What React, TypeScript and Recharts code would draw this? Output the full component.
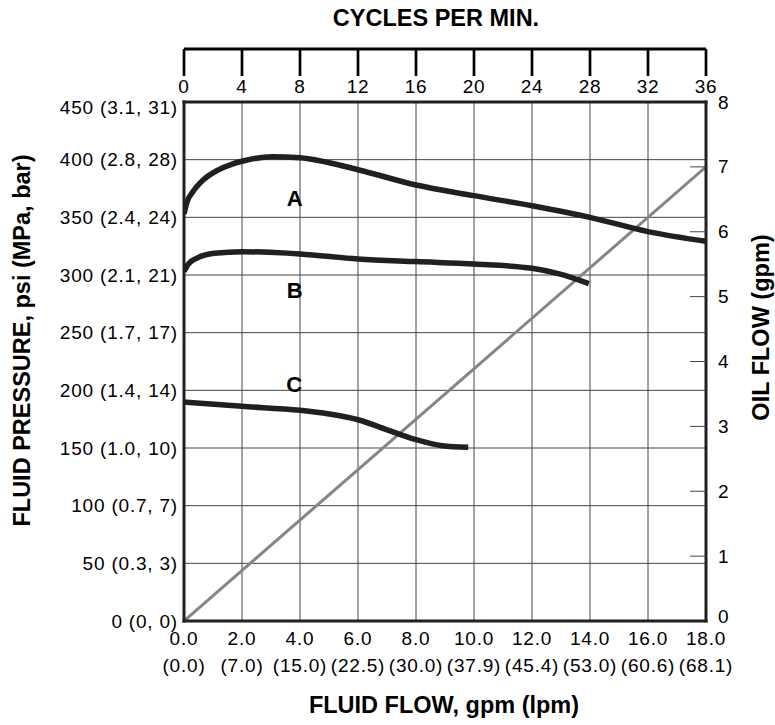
import React from "react";
import {
  CartesianGrid,
  Line,
  LineChart,
  ReferenceDot,
  ReferenceLine,
  XAxis,
  YAxis,
} from "recharts";

const FONT = '"Liberation Sans", Arial, Helvetica, sans-serif';
const INK = "#231f20";

// axis ticks
const GPM_TICKS = [0, 2, 4, 6, 8, 10, 12, 14, 16, 18];
const LPM_LABELS = ["0.0", "7.0", "15.0", "22.5", "30.0", "37.9", "45.4", "53.0", "60.6", "68.1"];
const CYCLE_TICKS = [0, 4, 8, 12, 16, 20, 24, 28, 32, 36];
const PSI_TICKS = [0, 50, 100, 150, 200, 250, 300, 350, 400, 450];
const MPA_LABELS = ["0", "0.3", "0.7", "1.0", "1.4", "1.7", "2.1", "2.4", "2.8", "3.1"];
const BAR_LABELS = ["0", "3", "7", "10", "14", "17", "21", "24", "28", "31"];
const OIL_TICKS = [0, 1, 2, 3, 4, 5, 6, 7, 8];

// curve A (gpm, psi)
const A_FLOW = [0, 0.1, 0.33, 0.69, 1.17, 1.64, 2, 3.05, 4, 6, 8, 10, 12, 14, 16, 18];
const A_PSI = [353, 363, 373, 383, 391, 396, 398.6, 402.6, 401.7, 391.3, 378, 368.8, 360, 350, 337.6, 329.2];

// curve B
const B_FLOW = [0, 0.15, 0.45, 1.05, 2, 4, 6, 8, 10, 12, 12.94, 13.96];
const B_PSI = [303.2, 309.5, 314.7, 318.8, 320.2, 318.2, 313.9, 311.6, 309.5, 305.8, 300.9, 292.5];

// curve C
const C_FLOW = [0, 2, 4, 5, 6, 7, 8, 8.9, 9.8];
const C_PSI = [189.9, 186.1, 182.7, 179.5, 174.5, 165.8, 157.2, 152, 150.6];

// oil flow vs pump cycles (cycles/min, gpm oil)
const OIL_CYCLES = [0, 36];
const OIL_GPM = [0, 7];

const TOP_AXIS_PSI = 496; // where the detached cycles axis line sits

const toRows = (xs: number[], ys: number[], key: string) =>
  xs.map((x, i) => ({ x, [key]: ys[i] }));

const curveA = toRows(A_FLOW, A_PSI, "psi");
const curveB = toRows(B_FLOW, B_PSI, "psi");
const curveC = toRows(C_FLOW, C_PSI, "psi");
const oilLine = toRows(OIL_CYCLES, OIL_GPM, "oil");

const tickText = {
  fontFamily: FONT,
  fontSize: 19,
  letterSpacing: 0.8,
  fill: "#000",
};

const titleText = {
  fontFamily: FONT,
  fontSize: 23.5,
  fontWeight: 700,
  fill: "#000",
};

const TopTick = (props: any) => {
  const { x, y, payload } = props;
  return (
    <g>
      <line x1={x} y1={y - 53} x2={x} y2={y - 26} stroke="#000" strokeWidth={2.7} />
      <text x={x} y={y - 16} textAnchor="middle" dominantBaseline="central" {...tickText}>
        {payload.value}
      </text>
    </g>
  );
};

const BottomTick = (props: any) => {
  const { x, y, payload, index } = props;
  return (
    <g>
      <text x={x} y={y + 17} textAnchor="middle" dominantBaseline="central" {...tickText}>
        {Number(payload.value).toFixed(1)}
      </text>
      <text x={x} y={y + 44} textAnchor="middle" dominantBaseline="central" {...tickText}>
        ({LPM_LABELS[index]})
      </text>
    </g>
  );
};

const LeftTick = (props: any) => {
  const { x, y, payload, index } = props;
  const shift = payload.value === 450 ? 5 : 0;
  return (
    <text x={x} y={y + shift} textAnchor="end" dominantBaseline="central" {...tickText}>
      {`${payload.value} (${MPA_LABELS[index]}, ${BAR_LABELS[index]})`}
    </text>
  );
};

const RightTick = (props: any) => {
  const { x, y, payload } = props;
  const v = payload.value;
  const shift = v === 0 ? -5 : 0;
  return (
    <g>
      {v > 0 && v < 8 && (
        <line x1={x - 16} y1={y} x2={x} y2={y} stroke="#444" strokeWidth={1} />
      )}
      <text x={x + 12} y={y + shift} textAnchor="start" dominantBaseline="central" {...tickText}>
        {v}
      </text>
    </g>
  );
};

const rotatedTitle = (text: string, dx: number, dy: number) => (props: any) => {
  const vb = props.viewBox || { x: 0, y: 0, width: 0, height: 0 };
  const cx = vb.x + dx;
  const cy = vb.y + vb.height / 2 + dy;
  return (
    <text
      x={cx}
      y={cy}
      transform={`rotate(-90 ${cx} ${cy})`}
      textAnchor="middle"
      dominantBaseline="central"
      {...titleText}
    >
      {text}
    </text>
  );
};

const flatTitle = (text: string, dx: number, dy: number) => (props: any) => {
  const vb = props.viewBox || { x: 0, y: 0, width: 0, height: 0 };
  return (
    <text
      x={vb.x + vb.width / 2 + dx}
      y={vb.y + dy}
      textAnchor="middle"
      dominantBaseline="central"
      {...titleText}
    >
      {text}
    </text>
  );
};

const border = { stroke: INK, strokeWidth: 3, strokeLinecap: "square" as const };

const curveLabel = (value: string) => ({
  value,
  position: "center" as const,
  fontFamily: FONT,
  fontSize: 22,
  fontWeight: 700,
  fill: "#000",
});

export default function App() {
  return (
    <div style={{ position: "absolute", left: 0, top: 0, background: "#fff" }}>
      <LineChart width={775} height={725} margin={{ top: 0, right: 0, bottom: 0, left: 0 }}>
        <CartesianGrid
          xAxisId="gpm"
          yAxisId="psi"
          stroke="#444"
          strokeWidth={1}
        />
        <XAxis
          xAxisId="gpm"
          dataKey="x"
          type="number"
          domain={[0, 18]}
          ticks={GPM_TICKS}
          interval={0}
          height={104}
          tickSize={0}
          tickMargin={0}
          axisLine={border}
          tickLine={false}
          tick={<BottomTick />}
          allowDataOverflow
          label={flatTitle("FLUID FLOW, gpm (lpm)", -1, 84)}
        />
        <XAxis
          xAxisId="cyc"
          dataKey="x"
          orientation="top"
          type="number"
          domain={[0, 36]}
          ticks={CYCLE_TICKS}
          interval={0}
          height={102}
          tickSize={0}
          tickMargin={0}
          axisLine={border}
          tickLine={false}
          tick={<TopTick />}
          allowDataOverflow
          label={flatTitle("CYCLES PER MIN.", -9, 18)}
        />
        <YAxis
          yAxisId="psi"
          type="number"
          domain={[0, 450]}
          ticks={PSI_TICKS}
          interval={0}
          width={184}
          tickSize={0}
          tickMargin={6}
          axisLine={border}
          tickLine={false}
          tick={<LeftTick />}
          allowDataOverflow
          label={rotatedTitle("FLUID PRESSURE, psi (MPa, bar)", 22, -21)}
        />
        <YAxis
          yAxisId="oil"
          orientation="right"
          type="number"
          domain={[0, 8]}
          ticks={OIL_TICKS}
          interval={0}
          width={69}
          tickSize={0}
          tickMargin={0}
          axisLine={border}
          tickLine={false}
          tick={<RightTick />}
          allowDataOverflow
          label={rotatedTitle("OIL FLOW (gpm)", 55, -34)}
        />

        <ReferenceLine
          xAxisId="gpm"
          yAxisId="psi"
          segment={[
            { x: 0, y: TOP_AXIS_PSI },
            { x: 18, y: TOP_AXIS_PSI },
          ]}
          ifOverflow="visible"
          stroke="#000"
          strokeWidth={3}
        />

        <Line
          xAxisId="cyc"
          yAxisId="oil"
          data={oilLine}
          dataKey="oil"
          type="linear"
          stroke="#858585"
          strokeWidth={3}
          dot={false}
          activeDot={false}
          isAnimationActive={false}
        />
        <Line
          xAxisId="gpm"
          yAxisId="psi"
          data={curveA}
          dataKey="psi"
          type="monotone"
          stroke={INK}
          strokeWidth={5.5}
          dot={false}
          activeDot={false}
          isAnimationActive={false}
        />
        <Line
          xAxisId="gpm"
          yAxisId="psi"
          data={curveB}
          dataKey="psi"
          type="monotone"
          stroke={INK}
          strokeWidth={5.5}
          dot={false}
          activeDot={false}
          isAnimationActive={false}
        />
        <Line
          xAxisId="gpm"
          yAxisId="psi"
          data={curveC}
          dataKey="psi"
          type="monotone"
          stroke={INK}
          strokeWidth={5.5}
          dot={false}
          activeDot={false}
          isAnimationActive={false}
        />

        <ReferenceDot xAxisId="gpm" yAxisId="psi" x={3.82} y={367} r={0} fill="none" stroke="none" label={curveLabel("A")} />
        <ReferenceDot xAxisId="gpm" yAxisId="psi" x={3.82} y={287} r={0} fill="none" stroke="none" label={curveLabel("B")} />
        <ReferenceDot xAxisId="gpm" yAxisId="psi" x={3.8} y={205} r={0} fill="none" stroke="none" label={curveLabel("C")} />
      </LineChart>
    </div>
  );
}
